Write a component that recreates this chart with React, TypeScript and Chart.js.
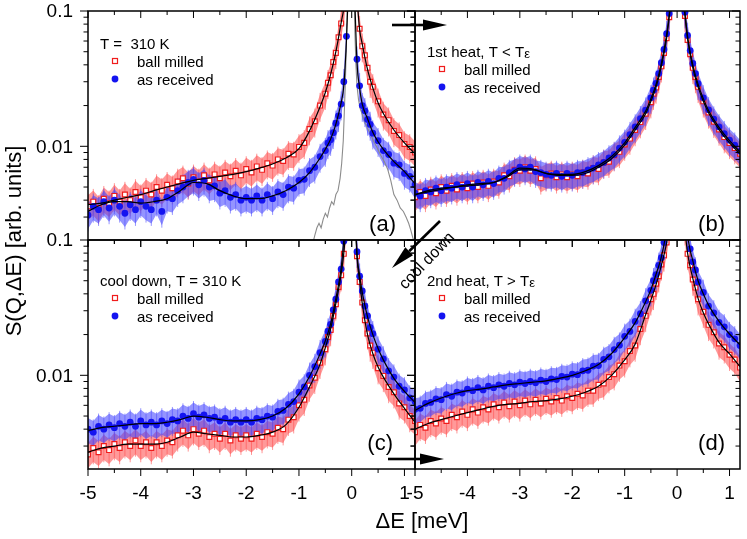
import React, { useEffect, useRef } from "react";
import { Chart, registerables } from "chart.js";

Chart.register(...registerables);

// ---------- data ----------
const E = [
  -5.0, -4.9, -4.8, -4.7, -4.6, -4.5, -4.4, -4.3, -4.2, -4.1,
  -4.0, -3.9, -3.8, -3.7, -3.6, -3.5, -3.4, -3.3, -3.2, -3.1,
  -3.0, -2.9, -2.8, -2.7, -2.6, -2.5, -2.4, -2.3, -2.2, -2.1,
  -2.0, -1.9, -1.8, -1.7, -1.6, -1.5, -1.4, -1.3, -1.2, -1.1,
  -1.0, -0.9, -0.8, -0.7, -0.6, -0.5, -0.45, -0.4, -0.35, -0.3, -0.25, -0.2, -0.15, -0.1,
  0.1, 0.15, 0.2, 0.25, 0.3, 0.35, 0.4, 0.5, 0.6, 0.7, 0.8, 0.9, 1.0, 1.1, 1.2,
];

// (a) T = 310 K
const A_BM = [
  0.0036, 0.0039, 0.0035, 0.0041, 0.0038, 0.0043, 0.0039, 0.0044, 0.0040, 0.0046,
  0.0042, 0.0047, 0.0044, 0.0050, 0.0047, 0.0052, 0.0049, 0.0055, 0.0058, 0.0053,
  0.0059, 0.0055, 0.0061, 0.0056, 0.0062, 0.0058, 0.0064, 0.0060, 0.0066, 0.0061,
  0.0068, 0.0064, 0.0071, 0.0067, 0.0075, 0.0072, 0.0080, 0.0078, 0.0088, 0.0087,
  0.0099, 0.0106, 0.0134, 0.0153, 0.0200, 0.0245, 0.0295, 0.0335, 0.042, 0.049, 0.064, 0.081, 0.104, 0.16,
  0.13, 0.074, 0.055, 0.047, 0.038, 0.030, 0.0275, 0.0215, 0.0172, 0.0156, 0.0130, 0.0121, 0.0104, 0.0099, 0.0090,
];
const A_AR = [
  0.0031, 0.0036, 0.0034, 0.0039, 0.0035, 0.0040, 0.0036, 0.0032, 0.0037, 0.0034,
  0.0039, 0.0036, 0.0034, 0.0040, 0.0033, 0.0042, 0.0041, 0.0047, 0.0050, 0.0054,
  0.0057, 0.0052, 0.0056, 0.0050, 0.0051, 0.0045, 0.0047, 0.0042, 0.0044, 0.0040,
  0.0042, 0.0040, 0.0043, 0.0040, 0.0044, 0.0041, 0.0046, 0.0044, 0.0050, 0.0049,
  0.0056, 0.0057, 0.0066, 0.0070, 0.0084, 0.0093, 0.0106, 0.0112, 0.0126, 0.0148, 0.0168, 0.0205, 0.030, 0.065,
  0.044, 0.028, 0.0200, 0.0183, 0.0158, 0.0145, 0.0125, 0.0110, 0.0093, 0.0087, 0.0075, 0.0073, 0.0063, 0.0060, 0.0052,
];
// (b) 1st heat
const B_BM = [
  0.0042, 0.0046, 0.0043, 0.0048, 0.0045, 0.0050, 0.0047, 0.0051, 0.0048, 0.0052,
  0.0049, 0.0053, 0.0050, 0.0054, 0.0051, 0.0055, 0.0054, 0.0061, 0.0060, 0.0067,
  0.0066, 0.0070, 0.0066, 0.0068, 0.0058, 0.0061, 0.0063, 0.0059, 0.0062, 0.0059,
  0.0062, 0.0060, 0.0064, 0.0063, 0.0069, 0.0068, 0.0076, 0.0077, 0.0086, 0.0091,
  0.0103, 0.0114, 0.0132, 0.0151, 0.0174, 0.0212, 0.0245, 0.0272, 0.0325, 0.0390, 0.049, 0.063, 0.090, 0.14,
  0.14, 0.092, 0.061, 0.048, 0.038, 0.0325, 0.0275, 0.0215, 0.0178, 0.0152, 0.0133, 0.0117, 0.0106, 0.0097, 0.0088,
];
const B_AR = [
  0.0045, 0.0043, 0.0047, 0.0046, 0.0049, 0.0047, 0.0050, 0.0049, 0.0052, 0.0050,
  0.0053, 0.0050, 0.0054, 0.0052, 0.0055, 0.0053, 0.0058, 0.0058, 0.0064, 0.0066,
  0.0070, 0.0068, 0.0070, 0.0065, 0.0064, 0.0062, 0.0061, 0.0063, 0.0060, 0.0063,
  0.0061, 0.0064, 0.0064, 0.0067, 0.0069, 0.0073, 0.0076, 0.0082, 0.0087, 0.0097,
  0.0107, 0.0122, 0.0139, 0.0160, 0.0185, 0.0228, 0.026, 0.0292, 0.0345, 0.0415, 0.052, 0.068, 0.096, 0.15,
  0.15, 0.098, 0.066, 0.051, 0.041, 0.0345, 0.029, 0.0228, 0.0186, 0.0159, 0.0139, 0.0124, 0.0111, 0.0102, 0.0092,
];
// (c) cool down
const C_BM = [
  0.0026, 0.0029, 0.0027, 0.0030, 0.0028, 0.0031, 0.0029, 0.0032, 0.0030, 0.0033,
  0.0030, 0.0032, 0.0029, 0.0032, 0.0030, 0.0033, 0.0032, 0.0036, 0.0039, 0.0036,
  0.0040, 0.0037, 0.0039, 0.0035, 0.0037, 0.0034, 0.0037, 0.0033, 0.0036, 0.0034,
  0.0036, 0.0034, 0.0037, 0.0035, 0.0038, 0.0037, 0.0041, 0.0040, 0.0047, 0.0049,
  0.0060, 0.0066, 0.0084, 0.0096, 0.0124, 0.0156, 0.0192, 0.0216, 0.0275, 0.0335, 0.045, 0.055, 0.079, 0.14,
  0.076, 0.049, 0.0345, 0.0255, 0.0204, 0.0166, 0.0147, 0.0113, 0.0099, 0.0082, 0.0075, 0.0062, 0.0058, 0.0050, 0.0046,
];
const C_AR = [
  0.0040, 0.0038, 0.0042, 0.0040, 0.0043, 0.0041, 0.0044, 0.0042, 0.0045, 0.0042,
  0.0046, 0.0043, 0.0045, 0.0043, 0.0046, 0.0044, 0.0047, 0.0046, 0.0050, 0.0048,
  0.0052, 0.0049, 0.0051, 0.0048, 0.0049, 0.0046, 0.0048, 0.0045, 0.0047, 0.0045,
  0.0047, 0.0045, 0.0048, 0.0047, 0.0050, 0.0049, 0.0054, 0.0055, 0.0061, 0.0064,
  0.0075, 0.0082, 0.0100, 0.0116, 0.0147, 0.0178, 0.0212, 0.0238, 0.0305, 0.0365, 0.049, 0.061, 0.098, 0.18,
  0.082, 0.054, 0.042, 0.0325, 0.0275, 0.0226, 0.0203, 0.0156, 0.0132, 0.0108, 0.0097, 0.0083, 0.0078, 0.0068, 0.0064,
];
// (d) 2nd heat
const D_BM = [
  0.0038, 0.0043, 0.0041, 0.0046, 0.0044, 0.0048, 0.0046, 0.0051, 0.0049, 0.0054,
  0.0051, 0.0056, 0.0053, 0.0058, 0.0056, 0.0061, 0.0058, 0.0063, 0.0059, 0.0064,
  0.0060, 0.0065, 0.0061, 0.0066, 0.0062, 0.0067, 0.0064, 0.0068, 0.0065, 0.0070,
  0.0068, 0.0073, 0.0071, 0.0077, 0.0077, 0.0085, 0.0087, 0.0097, 0.0102, 0.0118,
  0.0127, 0.0151, 0.0166, 0.0220, 0.0275, 0.0365, 0.040, 0.0475, 0.054, 0.066, 0.077, 0.096, 0.13, 0.2,
  0.2, 0.12, 0.079, 0.065, 0.051, 0.0445, 0.0365, 0.0295, 0.0236, 0.0208, 0.0172, 0.0161, 0.0142, 0.0131, 0.0114,
];
const D_AR = [
  0.0056, 0.0057, 0.0062, 0.0063, 0.0067, 0.0066, 0.0072, 0.0070, 0.0075, 0.0074,
  0.0079, 0.0077, 0.0081, 0.0078, 0.0083, 0.0081, 0.0085, 0.0083, 0.0087, 0.0085,
  0.0089, 0.0087, 0.0090, 0.0088, 0.0092, 0.0090, 0.0094, 0.0093, 0.0098, 0.0097,
  0.0102, 0.0101, 0.0108, 0.0109, 0.0117, 0.0118, 0.0131, 0.0137, 0.0155, 0.0167,
  0.0194, 0.0211, 0.0250, 0.0285, 0.0355, 0.0425, 0.050, 0.0555, 0.065, 0.074, 0.096, 0.12, 0.17, 0.3,
  0.35, 0.2, 0.11, 0.086, 0.069, 0.060, 0.049, 0.041, 0.0325, 0.0289, 0.0246, 0.0228, 0.0200, 0.0186, 0.0166,
];

// fitted curves (black lines)
const FIT_E = [
  -5, -4.75, -4.5, -4.25, -4, -3.75, -3.5, -3.25, -3, -2.75, -2.5, -2.25, -2, -1.75, -1.5, -1.25, -1,
  -0.8, -0.6, -0.5, -0.4, -0.3, -0.2, -0.15, -0.1, -0.05, 0,
  0.05, 0.1, 0.15, 0.2, 0.3, 0.4, 0.5, 0.6, 0.8, 1.0, 1.2,
];
const A_BM_FIT = [0.0037, 0.0038, 0.0040, 0.0042, 0.0044, 0.0047, 0.0050, 0.0053, 0.0056, 0.0058, 0.0060, 0.0062, 0.0065, 0.0069, 0.0074, 0.0082, 0.0096, 0.013, 0.0196, 0.025, 0.034, 0.050, 0.082, 0.105, 0.16, 0.3, 0.5, 0.3, 0.13, 0.073, 0.057, 0.037, 0.027, 0.021, 0.0175, 0.0132, 0.0106, 0.0088];
const A_AR_FIT = [0.0033, 0.0037, 0.0039, 0.0039, 0.0038, 0.0039, 0.0041, 0.0047, 0.0054, 0.0053, 0.0047, 0.0043, 0.0041, 0.0041, 0.0043, 0.0047, 0.0054, 0.0064, 0.0082, 0.0095, 0.0113, 0.0146, 0.021, 0.028, 0.06, 0.2, 0.4, 0.15, 0.042, 0.027, 0.0205, 0.016, 0.0127, 0.0108, 0.0095, 0.0077, 0.0065, 0.0053];
const B_BM_FIT = [0.0044, 0.0046, 0.0048, 0.0050, 0.0051, 0.0052, 0.0054, 0.0059, 0.0067, 0.0067, 0.0063, 0.0061, 0.0061, 0.0063, 0.0070, 0.0081, 0.0102, 0.0132, 0.0174, 0.0215, 0.0275, 0.039, 0.063, 0.090, 0.14, 0.3, 0.5, 0.3, 0.14, 0.093, 0.062, 0.038, 0.0275, 0.0215, 0.0177, 0.0133, 0.0106, 0.0088];
const B_AR_FIT = [0.0044, 0.0047, 0.0049, 0.0050, 0.0052, 0.0053, 0.0054, 0.0060, 0.0069, 0.0068, 0.0063, 0.0062, 0.0062, 0.0065, 0.0072, 0.0084, 0.0106, 0.0138, 0.0182, 0.0225, 0.0288, 0.041, 0.067, 0.095, 0.15, 0.3, 0.5, 0.3, 0.15, 0.097, 0.065, 0.040, 0.0288, 0.0225, 0.0184, 0.0138, 0.0110, 0.0091];
const C_BM_FIT = [0.0027, 0.0029, 0.0030, 0.0031, 0.0031, 0.0031, 0.0032, 0.0035, 0.0038, 0.0037, 0.0036, 0.0035, 0.0035, 0.0036, 0.0038, 0.0043, 0.0058, 0.0082, 0.0121, 0.016, 0.022, 0.034, 0.056, 0.080, 0.14, 0.3, 0.5, 0.2, 0.075, 0.050, 0.034, 0.020, 0.0145, 0.0115, 0.0097, 0.0073, 0.0057, 0.0045];
const C_AR_FIT = [0.0039, 0.0041, 0.0042, 0.0043, 0.0044, 0.0044, 0.0045, 0.0047, 0.0050, 0.0049, 0.0047, 0.0046, 0.0046, 0.0047, 0.0050, 0.0057, 0.0073, 0.0098, 0.0144, 0.018, 0.024, 0.037, 0.062, 0.10, 0.18, 0.35, 0.6, 0.25, 0.08, 0.055, 0.041, 0.027, 0.020, 0.0158, 0.0130, 0.0095, 0.0076, 0.0063];
const D_BM_FIT = [0.0040, 0.0044, 0.0047, 0.0050, 0.0053, 0.0056, 0.0059, 0.0061, 0.0062, 0.0064, 0.0065, 0.0067, 0.0070, 0.0075, 0.0083, 0.0100, 0.0130, 0.0170, 0.028, 0.036, 0.047, 0.065, 0.095, 0.13, 0.2, 0.4, 0.7, 0.4, 0.2, 0.12, 0.08, 0.052, 0.037, 0.029, 0.024, 0.0175, 0.0144, 0.0116];
const D_AR_FIT = [0.0055, 0.0062, 0.0068, 0.0073, 0.0077, 0.0079, 0.0082, 0.0085, 0.0087, 0.0089, 0.0091, 0.0095, 0.0100, 0.0108, 0.0120, 0.0145, 0.0190, 0.0245, 0.035, 0.043, 0.056, 0.075, 0.12, 0.17, 0.3, 0.5, 0.8, 0.6, 0.35, 0.2, 0.11, 0.070, 0.050, 0.040, 0.033, 0.025, 0.0202, 0.0168];

// resolution (grey line, panel a)
const RES_E = [
  -0.74, -0.7, -0.66, -0.62, -0.58, -0.54, -0.5, -0.46, -0.42, -0.38, -0.34, -0.3, -0.26, -0.22, -0.19, -0.16, -0.14, -0.12, -0.1, -0.08,
  0,
  0.04, 0.06, 0.08, 0.1, 0.13, 0.16, 0.2, 0.25, 0.3, 0.36, 0.42, 0.48, 0.55, 0.62, 0.68, 0.74, 0.8, 0.86, 0.92, 0.98, 1.03, 1.08, 1.12, 1.16, 1.2,
];
const RES = [
  0.0019, 0.0022, 0.0025, 0.0027, 0.0025, 0.0029, 0.0032, 0.0030, 0.0035, 0.0039, 0.0037, 0.0044, 0.0047, 0.0058, 0.0075, 0.011, 0.018, 0.03, 0.06, 0.12,
  1.0,
  0.2, 0.07, 0.04, 0.028, 0.022, 0.019, 0.0172, 0.0150, 0.0136, 0.0122, 0.0108, 0.0098, 0.0086, 0.0077, 0.0068, 0.0056, 0.0044, 0.0040, 0.0035, 0.0033, 0.0030, 0.0027, 0.0024, 0.0021, 0.0019,
];

const BM_ERR = 0.21;
const AR_ERR = 0.21;

// axes
const X_MIN = -5;
const X_MAX = 1.2;
const Y_MIN = 0.00203;
const Y_MAX = 0.1;
const X_MAJOR = [-5, -4, -3, -2, -1, 0, 1];
const X_TICK_LABELS = ["-5", "-4", "-3", "-2", "-1", "0", "1"];
const X_MINOR = [-4.5, -3.5, -2.5, -1.5, -0.5, 0.5];
const Y_MAJOR = [0.1, 0.01];
const Y_TICK_LABELS = ["0.1", "0.01"];
const Y_MINOR = [0.09, 0.08, 0.07, 0.06, 0.05, 0.04, 0.03, 0.02, 0.009, 0.008, 0.007, 0.006, 0.005, 0.004, 0.003];

const SERIES_NAMES = ["ball milled", "as received"];
const X_TITLE = "ΔE [meV]";
const Y_TITLE = "S(Q,ΔE) [arb. units]";

// ---------- styling ----------
const W = 747;
const H = 539;
const FONT = '"Liberation Sans", Arial, Helvetica, sans-serif';
const RED = "#f01c1c";
const BLUE = "#1414f0";

const PANELS = [
  { key: "a", rect: { l: 88, t: 11, r: 415, b: 240 }, title: "T =  310 K", sub: "", legendDy: 37.5,
    bm: A_BM, ar: A_AR, bmFit: A_BM_FIT, arFit: A_AR_FIT, res: true,
    label: "(a)", labelX: 396, labelY: 231, yLabels: true, xLabels: false, global: false },
  { key: "b", rect: { l: 415, t: 11, r: 740, b: 240 }, title: "1st heat, T < T", sub: "ε", legendDy: 45.5,
    bm: B_BM, ar: B_AR, bmFit: B_BM_FIT, arFit: B_AR_FIT, res: false,
    label: "(b)", labelX: 725, labelY: 231, yLabels: false, xLabels: false, global: false },
  { key: "c", rect: { l: 88, t: 240, r: 415, b: 469 }, title: "cool down, T = 310 K", sub: "", legendDy: 45.5,
    bm: C_BM, ar: C_AR, bmFit: C_BM_FIT, arFit: C_AR_FIT, res: false,
    label: "(c)", labelX: 393, labelY: 450, yLabels: true, xLabels: true, global: false },
  { key: "d", rect: { l: 415, t: 240, r: 740, b: 469 }, title: "2nd heat, T > T", sub: "ε", legendDy: 45.5,
    bm: D_BM, ar: D_AR, bmFit: D_BM_FIT, arFit: D_AR_FIT, res: false,
    label: "(d)", labelX: 725, labelY: 450, yLabels: false, xLabels: true, global: true },
];

const pts = (xs: number[], ys: number[]) => xs.map((x, i) => ({ x, y: ys[i] }));

function drawBand(chart: any, vals: number[], err: number, fill: string, stroke: string) {
  const { ctx, chartArea: a, scales } = chart;
  const x = scales.x, y = scales.y;
  ctx.save();
  ctx.beginPath();
  ctx.rect(a.left, a.top, a.right - a.left, a.bottom - a.top);
  ctx.clip();
  const sides = [E.map((e, i) => i).filter((i) => E[i] < 0), E.map((e, i) => i).filter((i) => E[i] > 0)];
  for (const idx of sides) {
    ctx.beginPath();
    idx.forEach((i, k) => {
      const px = x.getPixelForValue(E[i]);
      const py = y.getPixelForValue(vals[i] * (1 + err));
      if (k === 0) ctx.moveTo(px, py); else ctx.lineTo(px, py);
    });
    for (let k = idx.length - 1; k >= 0; k--) {
      const i = idx[k];
      ctx.lineTo(x.getPixelForValue(E[i]), y.getPixelForValue(vals[i] * (1 - err)));
    }
    ctx.closePath();
    ctx.fillStyle = fill;
    ctx.fill();
  }
  ctx.strokeStyle = stroke;
  ctx.lineWidth = 1;
  ctx.beginPath();
  E.forEach((e, i) => {
    const px = x.getPixelForValue(e);
    ctx.moveTo(px, y.getPixelForValue(vals[i] * (1 - err * 1.15)));
    ctx.lineTo(px, y.getPixelForValue(vals[i] * (1 + err * 1.15)));
  });
  ctx.stroke();
  ctx.restore();
}

function drawArrow(ctx: CanvasRenderingContext2D, x1: number, y1: number, x2: number, y2: number) {
  const ang = Math.atan2(y2 - y1, x2 - x1);
  const hl = 24, hw = 5.5;
  const bx = x2 - hl * Math.cos(ang), by = y2 - hl * Math.sin(ang);
  ctx.lineWidth = 2.6;
  ctx.beginPath();
  ctx.moveTo(x1, y1);
  ctx.lineTo(bx, by);
  ctx.stroke();
  ctx.beginPath();
  ctx.moveTo(x2, y2);
  ctx.lineTo(bx + hw * Math.sin(ang), by - hw * Math.cos(ang));
  ctx.lineTo(bx - hw * Math.sin(ang), by + hw * Math.cos(ang));
  ctx.closePath();
  ctx.fill();
}

function drawDecor(chart: any, p: any) {
  const { ctx, chartArea: a, scales } = chart;
  const x = scales.x, y = scales.y;
  ctx.save();
  ctx.strokeStyle = "#000";
  ctx.fillStyle = "#000";
  ctx.lineWidth = 1;
  ctx.beginPath();
  for (const v of X_MAJOR) {
    const px = x.getPixelForValue(v);
    ctx.moveTo(px, a.bottom); ctx.lineTo(px, a.bottom + 7);
    ctx.moveTo(px, a.top); ctx.lineTo(px, a.top + 7);
  }
  for (const v of X_MINOR) {
    const px = x.getPixelForValue(v);
    ctx.moveTo(px, a.bottom); ctx.lineTo(px, a.bottom + 4);
    ctx.moveTo(px, a.top); ctx.lineTo(px, a.top + 4);
  }
  for (const v of Y_MAJOR) {
    const py = y.getPixelForValue(v);
    ctx.moveTo(a.left - 8, py); ctx.lineTo(a.left, py);
    ctx.moveTo(a.right - 8, py); ctx.lineTo(a.right, py);
  }
  for (const v of Y_MINOR) {
    const py = y.getPixelForValue(v);
    ctx.moveTo(a.left - 4.5, py); ctx.lineTo(a.left, py);
    ctx.moveTo(a.right - 4.5, py); ctx.lineTo(a.right, py);
  }
  ctx.stroke();
  ctx.lineWidth = 1.5;
  ctx.strokeRect(a.left, a.top, a.right - a.left, a.bottom - a.top);

  // tick labels
  ctx.font = `19px ${FONT}`;
  if (p.yLabels) {
    ctx.textAlign = "right";
    ctx.textBaseline = "middle";
    Y_MAJOR.forEach((v, i) => ctx.fillText(Y_TICK_LABELS[i], a.left - 15, y.getPixelForValue(v) + 1));
  }
  if (p.xLabels) {
    ctx.textAlign = "center";
    ctx.textBaseline = "middle";
    X_MAJOR.forEach((v, i) => ctx.fillText(X_TICK_LABELS[i], x.getPixelForValue(v), a.bottom + 25));
  }

  // legend
  ctx.textAlign = "left";
  ctx.textBaseline = "alphabetic";
  ctx.font = `15px ${FONT}`;
  const ty = a.top + p.legendDy;
  ctx.fillText(p.title, a.left + 12, ty);
  if (p.sub) {
    const w = ctx.measureText(p.title).width;
    ctx.font = `13px ${FONT}`;
    ctx.fillText(p.sub, a.left + 12 + w, ty + 1);
    ctx.font = `15px ${FONT}`;
  }
  const r1 = ty + 18, r2 = ty + 36;
  ctx.fillText(SERIES_NAMES[0], a.left + 49, r1);
  ctx.fillText(SERIES_NAMES[1], a.left + 49, r2);
  ctx.lineWidth = 1.2;
  ctx.strokeStyle = RED;
  ctx.fillStyle = "#fff";
  ctx.fillRect(a.left + 24.5, r1 - 8, 5, 5);
  ctx.strokeRect(a.left + 24.5, r1 - 8, 5, 5);
  ctx.fillStyle = BLUE;
  ctx.beginPath();
  ctx.arc(a.left + 27, r2 - 5.5, 3.4, 0, Math.PI * 2);
  ctx.fill();

  // panel label
  ctx.fillStyle = "#000";
  ctx.font = `22px ${FONT}`;
  ctx.textAlign = "right";
  ctx.fillText(p.label, p.labelX, p.labelY);

  if (p.global) {
    ctx.font = `22px ${FONT}`;
    ctx.textAlign = "center";
    ctx.textBaseline = "alphabetic";
    ctx.fillText(X_TITLE, 422, 528);
    ctx.save();
    ctx.translate(21, 241);
    ctx.rotate(-Math.PI / 2);
    ctx.fillText(Y_TITLE, 0, 0);
    ctx.restore();

    ctx.strokeStyle = "#000";
    ctx.fillStyle = "#000";
    drawArrow(ctx, 392, 25, 447, 25);
    drawArrow(ctx, 388, 459, 444, 459);
    drawArrow(ctx, 440, 221, 392, 268);
    ctx.save();
    ctx.translate(427, 261);
    ctx.rotate((-46 * Math.PI) / 180);
    ctx.font = `16px ${FONT}`;
    ctx.textAlign = "center";
    ctx.textBaseline = "middle";
    ctx.fillText("cool down", 0, 0);
    ctx.restore();
  }
  ctx.restore();
}

function makeConfig(p: any): any {
  const datasets: any[] = [
    { label: SERIES_NAMES[1], data: pts(E, p.ar), showLine: false, pointStyle: "circle", pointRadius: 3.4,
      pointBackgroundColor: BLUE, pointBorderColor: BLUE, pointBorderWidth: 0, borderColor: BLUE, order: 2, clip: 0 },
    { label: SERIES_NAMES[0], data: pts(E, p.bm), showLine: false, pointStyle: "rect", pointRadius: 3.4,
      pointBackgroundColor: "#ffffff", pointBorderColor: RED, pointBorderWidth: 1.2, borderColor: RED, order: 3, clip: 0 },
    { label: "fit bm", data: pts(FIT_E, p.bmFit), borderColor: "#000", borderWidth: 1.2, pointRadius: 0,
      cubicInterpolationMode: "monotone", order: 1, clip: 0 },
    { label: "fit ar", data: pts(FIT_E, p.arFit), borderColor: "#000", borderWidth: 1.2, pointRadius: 0,
      cubicInterpolationMode: "monotone", order: 1, clip: 0 },
  ];
  if (p.res) {
    datasets.push({ label: "resolution", data: pts(RES_E, RES), borderColor: "#8c8c8c", borderWidth: 1.1,
      pointRadius: 0, tension: 0, order: 4, clip: 0 });
  }
  return {
    type: "line",
    data: { datasets },
    options: {
      responsive: false,
      animation: false,
      devicePixelRatio: 1,
      events: [],
      layout: { padding: { left: p.rect.l, top: p.rect.t, right: W - p.rect.r, bottom: H - p.rect.b } },
      plugins: { legend: { display: false }, tooltip: { enabled: false }, title: { display: false } },
      scales: {
        x: { type: "linear", min: X_MIN, max: X_MAX, display: false },
        y: { type: "logarithmic", min: Y_MIN, max: Y_MAX, display: false },
      },
    },
    plugins: [
      {
        id: "panel-" + p.key,
        beforeDatasetsDraw(chart: any) {
          drawBand(chart, p.bm, BM_ERR, "rgba(255,70,70,0.55)", "rgba(255,80,80,0.6)");
          drawBand(chart, p.ar, AR_ERR, "rgba(60,60,255,0.55)", "rgba(80,80,255,0.6)");
        },
        afterDraw(chart: any) {
          drawDecor(chart, p);
        },
      },
    ],
  };
}

export default function App() {
  const refs = useRef<(HTMLCanvasElement | null)[]>([]);
  useEffect(() => {
    const charts = PANELS.map((p, i) => new Chart(refs.current[i] as HTMLCanvasElement, makeConfig(p)));
    return () => charts.forEach((c) => c.destroy());
  }, []);
  return (
    <div style={{ position: "fixed", left: 0, top: 0, width: W, height: H, background: "#fff" }}>
      {PANELS.map((p, i) => (
        <canvas
          key={p.key}
          ref={(el) => { refs.current[i] = el; }}
          width={W}
          height={H}
          style={{ position: "absolute", left: 0, top: 0, width: W, height: H }}
        />
      ))}
    </div>
  );
}
